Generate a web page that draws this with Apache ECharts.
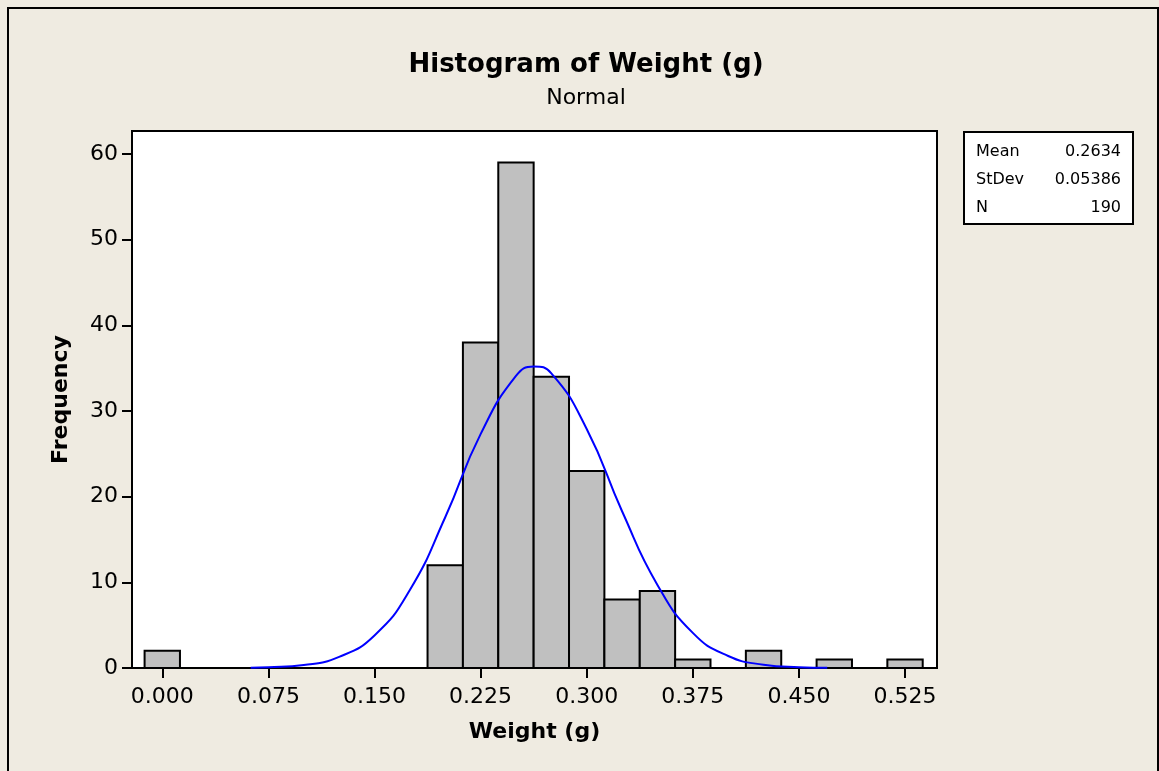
<!DOCTYPE html>
<html>
<head>
<meta charset="utf-8">
<script src="https://cdn.jsdelivr.net/npm/echarts@6/dist/echarts.min.js"></script>
<style>
  html, body { margin: 0; padding: 0; background: #efebe1; }
  #main { width: 1159px; height: 771px; }
</style>
</head>
<body>
<div id="main"></div>
<script>
// bin centres (width 0.025) and counts
const binCenters = [0.000, 0.025, 0.050, 0.075, 0.100, 0.125, 0.150, 0.175, 0.200, 0.225,
                    0.250, 0.275, 0.300, 0.325, 0.350, 0.375, 0.400, 0.425, 0.450, 0.475, 0.500, 0.525];
const binCounts = [2, 0, 0, 0, 0, 0, 0, 0, 12, 38,
                   59, 34, 23, 8, 9, 1, 0, 2, 0, 1, 0, 1];
const binWidth = 0.025;

// fitted normal curve
const curveX = [0.0625, 0.075, 0.100, 0.125, 0.150, 0.175, 0.200, 0.225, 0.250, 0.2625,
                0.275, 0.300, 0.325, 0.350, 0.375, 0.400, 0.425, 0.450, 0.470];
const curveY = [0.03, 0.08, 0.35, 1.3, 3.8, 9.1, 17.6, 27.3, 34.1, 35.2,
                34.4, 27.9, 18.3, 9.7, 4.1, 1.4, 0.39, 0.09, 0.02];

const xTicks = [0, 0.075, 0.150, 0.225, 0.300, 0.375, 0.450, 0.525];
const yTicks = [0, 10, 20, 30, 40, 50, 60];

const statLabels = ['Mean', 'StDev', 'N'];
const statValues = ['0.2634', '0.05386', '190'];

const chart = echarts.init(document.getElementById('main'));

const font = 'DejaVu Sans';

const statGraphics = [];
statLabels.forEach(function (lab, i) {
    statGraphics.push({
        type: 'text', x: 976, y: 152 + i * 28,
        style: { text: lab, font: '16px "' + font + '"', fill: '#000', textVerticalAlign: 'middle' }
    });
    statGraphics.push({
        type: 'text', x: 1121, y: 152 + i * 28,
        style: { text: statValues[i], font: '16px "' + font + '"', fill: '#000',
                 textAlign: 'right', textVerticalAlign: 'middle' }
    });
});

const option = {
    backgroundColor: '#efebe1',
    animation: false,
    title: {
        text: 'Histogram of Weight (g)',
        subtext: 'Normal',
        left: 581,
        textAlign: 'center',
        top: 47,
        itemGap: 9,
        textStyle: { fontFamily: font, fontWeight: 'bold', fontSize: 26, color: '#000' },
        subtextStyle: { fontFamily: font, fontSize: 22, color: '#000' }
    },
    grid: {
        left: 132, right: 1159 - 937, top: 131, bottom: 771 - 668,
        show: true, backgroundColor: '#fff', borderColor: '#000', borderWidth: 2
    },
    xAxis: {
        type: 'value',
        min: -0.0214, max: 0.5476,
        name: 'Weight (g)',
        nameLocation: 'middle',
        nameGap: 53,
        nameTextStyle: { fontFamily: font, fontWeight: 'bold', fontSize: 22, color: '#000' },
        splitLine: { show: false },
        axisLine: { show: true, onZero: false, lineStyle: { color: '#000', width: 2 } },
        axisTick: { show: true, length: 10, customValues: xTicks, lineStyle: { color: '#000', width: 2 } },
        axisLabel: {
            customValues: xTicks, margin: 18,
            fontFamily: font, fontSize: 22, color: '#000',
            formatter: function (v) { return v.toFixed(3); }
        }
    },
    yAxis: {
        type: 'value',
        min: 0, max: 62.68,
        name: 'Frequency',
        nameLocation: 'middle',
        nameGap: 60,
        nameTextStyle: { fontFamily: font, fontWeight: 'bold', fontSize: 22, color: '#000' },
        splitLine: { show: false },
        axisLine: { show: true, onZero: false, lineStyle: { color: '#000', width: 2 } },
        axisTick: { show: true, length: 10, customValues: yTicks, lineStyle: { color: '#000', width: 2 } },
        axisLabel: {
            customValues: yTicks, margin: 14,
            fontFamily: font, fontSize: 22, color: '#000'
        }
    },
    graphic: [
        {
            type: 'rect', silent: true,
            shape: { x: 8, y: 8, width: 1150, height: 770 },
            style: { fill: 'none', stroke: '#000', lineWidth: 2 }
        },
        {
            type: 'rect', silent: true,
            shape: { x: 964, y: 132, width: 169, height: 92 },
            style: { fill: '#fff', stroke: '#000', lineWidth: 2 }
        }
    ].concat(statGraphics),
    series: [
        {
            type: 'custom',
            data: binCenters.map(function (c, i) { return [c, binCounts[i]]; }),
            renderItem: function (params, api) {
                const c = api.value(0), n = api.value(1);
                const p0 = api.coord([c - binWidth / 2, n]);
                const p1 = api.coord([c + binWidth / 2, 0]);
                return {
                    type: 'rect',
                    shape: { x: p0[0], y: p0[1], width: p1[0] - p0[0], height: p1[1] - p0[1] },
                    style: { fill: '#c0c0c0', stroke: '#000', lineWidth: 2 }
                };
            },
            z: 2
        },
        {
            type: 'line',
            data: curveX.map(function (x, i) { return [x, curveY[i]]; }),
            smooth: true,
            showSymbol: false,
            lineStyle: { color: '#0000ff', width: 2 },
            z: 3
        }
    ]
};

chart.setOption(option);
</script>
</body>
</html>
